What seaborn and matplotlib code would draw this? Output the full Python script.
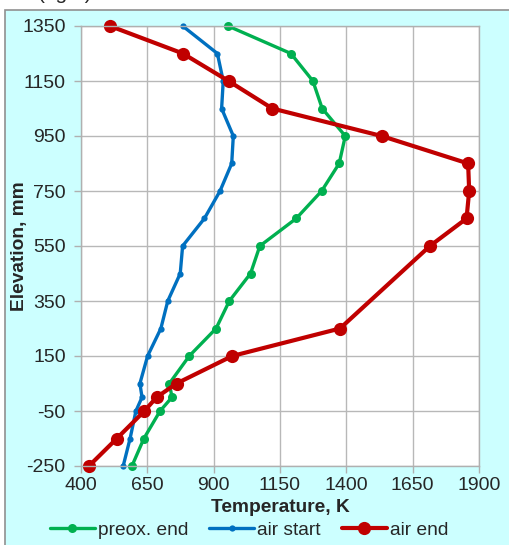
import numpy as np
import pandas as pd
import seaborn as sns
import matplotlib.pyplot as plt
from matplotlib.patches import Rectangle

# data
elev_air_end = [1350, 1250, 1150, 1050, 950, 850, 750, 650, 550, 250, 150, 50, 0, -50, -150, -250]
temp_air_end = [509, 784, 956, 1121, 1533, 1859, 1863, 1853, 1715, 1376, 970, 760, 685, 639, 535, 430]

elev_profile = [1350, 1250, 1150, 1050, 950, 850, 750, 650, 550, 450, 350, 250, 150, 50, 0, -50, -150, -250]
temp_air_start = [783, 914, 936, 930, 974, 968, 924, 865, 783, 774, 727, 701, 651, 622, 630, 607, 585, 559]
temp_preox_end = [954, 1191, 1274, 1309, 1396, 1373, 1307, 1211, 1074, 1039, 959, 909, 808, 733, 743, 698, 637, 592]

x_ticks = [400, 650, 900, 1150, 1400, 1650, 1900]
y_ticks = [-250, -50, 150, 350, 550, 750, 950, 1150, 1350]

sns.set_style("white")
plt.rcParams['font.family'] = ['Liberation Sans', 'DejaVu Sans']
plt.rcParams['axes.unicode_minus'] = False

fig = plt.figure(figsize=(5.09, 5.45), dpi=100)
fig.patch.set_facecolor('white')
# cyan chart panel behind the axes
fig.patches.append(Rectangle((5 / 509, -0.01), 1.0, (545 - 10) / 545 + 0.01,
                             transform=fig.transFigure, facecolor='#CCFFFF',
                             edgecolor='#909090', linewidth=1.2, zorder=-10))
fig.text(65 / 509, 1.012, "(right)", ha='center', va='center', fontsize=15)

ax = fig.add_axes([81 / 509, 1 - 466 / 545, (479 - 81) / 509, (466 - 26) / 545])
ax.set_facecolor('white')

common = dict(sort=False, estimator=None, marker='o', markeredgewidth=0, clip_on=False, ax=ax)
sns.lineplot(x=temp_preox_end, y=elev_profile, color='#00B050', lw=2.4,
             markersize=6.5, label='preox. end', **common)
sns.lineplot(x=temp_air_start, y=elev_profile, color='#0070C0', lw=2.4,
             markersize=4.5, label='air start', **common)
sns.lineplot(x=temp_air_end, y=elev_air_end, color='#C00000', lw=3,
             markersize=9.5, label='air end', **common)

ax.set_xlim(400, 1900)
ax.set_ylim(-250, 1350)
ax.set_xticks(x_ticks)
ax.set_yticks(y_ticks)
ax.grid(True, color='#B8B8B8', lw=1)
for s in ax.spines.values():
    s.set_color('#B0B0B0')
    s.set_linewidth(1)
ax.tick_params(axis='both', direction='out', length=5, color='#B0B0B0', width=1,
               labelsize=14, left=True, bottom=True)
ax.tick_params(axis='y', pad=6)
ax.tick_params(axis='x', pad=3)
ax.set_xlabel('Temperature, K', fontsize=13.8, fontweight='bold')
ax.set_ylabel('Elevation, mm', fontsize=13.8, fontweight='bold')
ax.xaxis.set_label_coords(0.5, -0.075)
ax.yaxis.set_label_coords(-0.133, 0.5)

ax.legend(loc='center', bbox_to_anchor=(0.422, -0.1465), ncol=3, frameon=False,
          fontsize=13.8, handlelength=2.35, handletextpad=0.15, columnspacing=1.1,
          borderaxespad=0, borderpad=0)

fig.savefig('out.png', dpi=100, facecolor=fig.get_facecolor())
